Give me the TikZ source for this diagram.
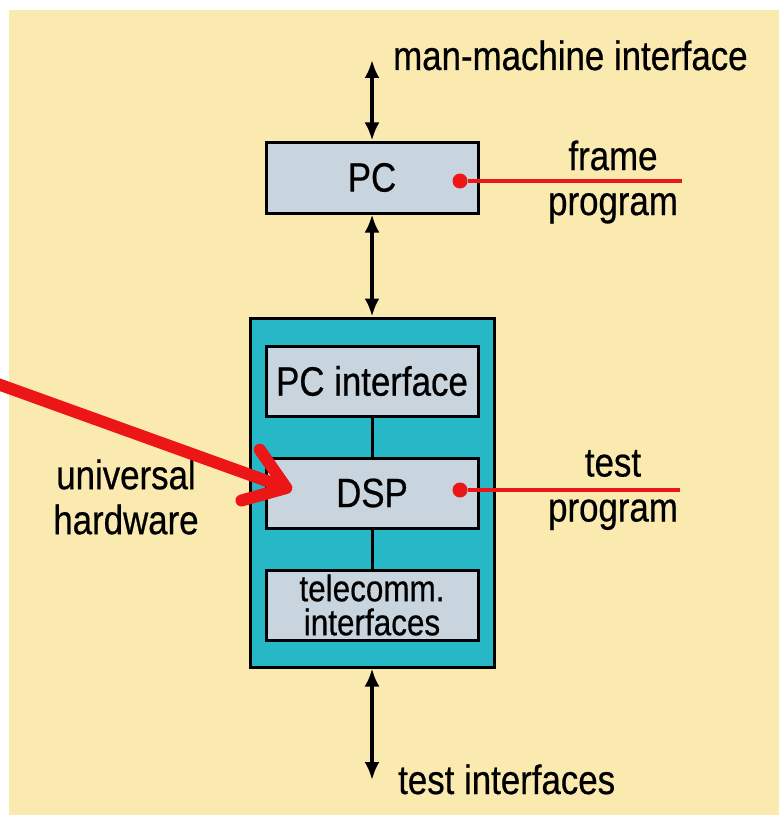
\documentclass[tikz,border=0pt]{standalone}
\usepackage{fontspec}
\setmainfont{Liberation Sans}[FakeStretch=0.85, FakeBold=0.5]
\usetikzlibrary{arrows.meta}

\definecolor{sfondo}{RGB}{251,234,176}
\definecolor{ciano}{RGB}{38,184,199}
\definecolor{grigio}{RGB}{201,213,222}
\definecolor{rosso}{RGB}{236,22,22}

\tikzset{
    scheda/.style={draw, line width=3pt, fill=grigio, minimum width=212pt, minimum height=70pt, inner sep=0pt},
    testo/.style={font=\fontsize{41}{45}\selectfont, align=center, inner sep=0pt},
    doppia/.style={{Latex[length=18pt,width=15pt]}-{Latex[length=18pt,width=15pt]}, line width=3.5pt},
    punto/.style={circle, fill=rosso, minimum size=15pt, inner sep=0pt},
    filo/.style={draw=rosso, line width=3.5pt}
}

\begin{document}
\begin{tikzpicture}[x=1pt, y=-1pt]
    % Sfondo
    \useasboundingbox (0,0) rectangle (779,824);
    \fill[sfondo] (9,10) rectangle (779,815);

    % Blocchi
    \node[draw, line width=3pt, fill=ciano, minimum width=244pt, minimum height=349pt] (uh) at (372,492.5) {};
    \node[scheda, minimum height=71pt] (pc) at (372,177.5) {};
    \node[testo] at (pc) {PC};
    \node[scheda] (pci) at (372,381) {};
    \node[testo] at (pci) {PC interface};
    \node[scheda] (dsp) at (372,493) {};
    \node[testo] at (dsp) {DSP};
    \node[scheda] (tel) at (372,605) {};
    \node[testo, font=\fontsize{37}{34}\selectfont] at (tel) {telecomm.\\interfaces};

    % Collegamenti interni
    \draw[line width=3pt] (pci) -- (dsp);
    \draw[line width=3pt] (dsp) -- (tel);

    % Frecce verticali
    \coordinate (mmi) at (372,60);
    \coordinate (ti) at (372,780);
    \draw[doppia] (mmi) -- (pc.north);
    \draw[doppia] (pc.south) -- (uh.north);
    \draw[doppia] (uh.south) -- (ti);
    \node[testo, anchor=base west] (mmit) at (393,70) {man-machine interface};
    \node[testo, anchor=base west] (tit) at (398,794) {test interfaces};

    % Programmi
    \node[punto] (fdot) at (460,181) {};
    \coordinate (fend) at (682,181);
    \draw[filo] (fdot) -- (fend);
    \node[testo] (frame) at (613,182) {frame\\program};

    \node[punto] (tdot) at (460,490) {};
    \coordinate (tend) at (680,490);
    \draw[filo] (tdot) -- (tend);
    \node[testo] (test) at (613,490) {test\\program};

    % Hardware universale
    \node[testo] (hw) at (126,497) {universal\\hardware};
    \coordinate (hws) at (-5,383);
    \coordinate (hwt) at (292,490);
    \draw[rosso, line width=12pt, line cap=round,
          -{Straight Barb[length=38pt, width=54pt, line cap=round, line join=round]}] (hws) -- (hwt);
\end{tikzpicture}
\end{document}
